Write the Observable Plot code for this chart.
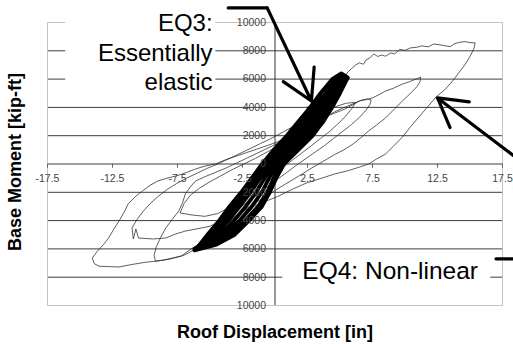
<!DOCTYPE html>
<html>
<head>
<meta charset="utf-8">
<script src="https://cdn.jsdelivr.net/npm/d3@7"></script>
<script src="https://cdn.jsdelivr.net/npm/@observablehq/plot@0.6"></script>
<style>
  html, body { margin: 0; padding: 0; background: #fff; }
  svg { display: block; }
</style>
</head>
<body>
<div id="chart"></div>
<script>
// ---- axis ticks ----
const xTicks = [-17.5, -12.5, -7.5, -2.5, 2.5, 7.5, 12.5, 17.5];
const xTickLabels = ["-17.5", "-12.5", "-7.5", "-2.5", "2.5", "7.5", "12.5", "17.5"];
const yTicks = [10000, 8000, 6000, 4000, 2000, 0, -2000, -4000, -6000, -8000, -10000];
const yTickLabels = ["10000", "8000", "6000", "4000", "2000", "0", "2000", "4000", "6000", "8000", "10000"];

// ---- EQ4 (non-linear) response: [roof displacement in, base moment kip-ft] ----
const eq4 = [
  [-0.3,-200],[0.6,700],[1.5,1500],[2.4,2300],[3.2,3100],[4.0,3900],[4.6,4700],[5.0,5400],[5.4,6200],[5.6,6500],
  [5.9,6750],[6.2,7000],[6.5,7150],[6.8,7050],[7.0,7350],[7.3,7500],[7.6,7780],[7.9,7600],[8.2,7700],[8.5,7620],
  [8.9,7850],[9.2,7780],[9.6,8100],[10.0,8030],[10.4,8200],[10.9,8250],[11.3,8350],[11.8,8280],[12.2,8480],[12.7,8420],
  [13.1,8350],[13.5,8300],[13.8,8500],[14.2,8600],[14.6,8650],[15.0,8580],[15.4,8560],
  [15.3,8150],[15.0,7600],[14.6,7000],[14.1,6400],[13.6,5800],[13.0,5200],[12.4,4750],[11.8,4100],[11.0,3250],
  [10.4,2600],[9.8,1900],[9.1,1250],[8.5,700],[7.8,350],[7.2,0],[6.4,-250],[5.5,-500],[4.6,-700],[3.6,-1000],
  [2.4,-1350],[1.3,-1800],[0.2,-2300],[-0.9,-2700],[-2.0,-3100],[-3.0,-3700],[-4.0,-4500],[-5.0,-5300],[-6.0,-5950],
  [-7.0,-6450],[-8.0,-6700],[-9.0,-6850],[-10.0,-6950],[-11.0,-7100],[-12.0,-7280],[-12.8,-7250],[-13.5,-7230],
  [-13.9,-7050],[-14.05,-6650],
  [-13.7,-6200],[-13.2,-5700],[-12.8,-5230],[-12.4,-4600],[-12.0,-4030],[-11.6,-3400],[-11.3,-2830],[-10.8,-2350],
  [-10.2,-1910],[-9.6,-1500],[-9.0,-1200],[-8.3,-1000],[-7.6,-850],[-6.8,-600],[-6.1,-350],[-5.4,-150],[-4.6,0],
  [-3.8,300],[-3.0,550],[-2.2,800],[-1.4,1050],[-0.6,1300],[0.3,1600],[1.2,2000],[2.1,2400],[3.0,2900],[3.8,3300],
  [4.6,3600],[5.4,3890],[6.0,4200],[6.5,4450],[7.0,4550],[7.5,4670],[8.0,4900],[8.5,5160],[9.1,5350],[9.8,5650],
  [10.3,5800],[10.7,5950],[11.0,6050],[11.2,6150],
  [11.15,5800],[10.9,5450],[10.6,5160],[10.2,4800],[9.8,4450],[9.2,3900],[8.5,3250],[7.8,2750],[7.2,2330],[6.6,1850],
  [6.0,1410],[5.3,1000],[4.65,700],[4.0,350],[3.35,0],[2.7,-350],[2.1,-700],[1.2,-1200],[0.3,-1700],[-0.7,-2300],
  [-1.8,-2900],[-2.8,-3500],[-3.8,-4200],[-4.8,-4900],[-5.8,-5600],[-6.6,-6100],[-7.2,-6500],[-7.9,-6650],[-8.6,-6800],
  [-9.2,-6860],
  [-9.3,-6450],[-9.15,-5900],[-8.8,-5200],[-8.4,-4520],[-7.9,-3900],[-7.4,-3320],[-7.1,-2700],[-6.9,-2120],[-6.5,-1600],
  [-6.1,-1200],[-5.4,-900],[-4.6,-600],[-3.8,-300],[-3.0,50],[-2.2,400],[-1.4,750],[-0.6,1100],[0.3,1500],[1.2,1950],
  [2.0,2400],[2.8,2850],[3.6,3250],[4.4,3600],[5.2,3950],[6.0,4250],[6.6,4500],[7.1,4600],[7.4,4520],
  [7.3,4200],[7.0,3800],[6.5,3300],[5.9,2800],[5.2,2300],[4.5,1800],[3.8,1300],[3.1,850],[2.4,400],[1.7,-50],
  [0.9,-600],[0.0,-1200],[-1.0,-1900],[-2.0,-2600],[-3.0,-3300],[-4.0,-3900],[-5.0,-4400],[-6.1,-4600],[-6.9,-4740],
  [-7.65,-4950],[-8.4,-5230],[-9.4,-5300],[-10.5,-5230],[-10.7,-4600],[-10.9,-5300],[-11.0,-4520],
  [-10.6,-3900],[-10.1,-3300],[-9.6,-2800],[-9.0,-2300],[-8.3,-1800],[-7.6,-1400],[-6.8,-1000],[-6.0,-650],[-5.2,-300],
  [-4.4,0],[-3.6,350],[-2.8,700],[-2.0,1050],[-1.1,1450],[-0.2,1850],[0.7,2300],[1.6,2750],[2.4,3150],[3.2,3500],
  [4.0,3800],[4.8,4100],[5.5,4300],[6.2,4350],
  [5.9,3900],[5.4,3350],[4.8,2800],[4.2,2300],[3.5,1800],[2.8,1300],[2.1,800],[1.3,250],[0.5,-300],[-0.4,-900],
  [-1.4,-1600],[-2.4,-2300],[-3.4,-3000],[-4.4,-3500],[-5.4,-3700],[-6.4,-3600],[-7.3,-3460],
  [-7.0,-2800],[-6.5,-2200],[-5.8,-1700],[-5.0,-1250],[-4.2,-850],[-3.3,-400],[-2.4,0],[-1.5,400],[-0.6,850],
  [0.3,1300],[1.2,1800],[2.0,2300],[2.8,2800],[3.5,3200],[4.1,3390],
  [3.8,2900],[3.2,2300],[2.5,1700],[1.8,1100],[1.0,500],[0.2,0]
];

// ---- EQ3 (essentially elastic) response ----
const eq3 = [
  [-2.3,-4000],[-1.3,-3000],[-0.6,-2000],[-0.1,-1000],[0.4,0],[1.5,1000],[2.6,2000],[3.4,3000],[4.2,4000],
  [3.5,4500],[3.0,4000],[2.1,3000],[1.2,2000],[0.2,1000],[-0.7,0],[-1.5,-1000],[-2.3,-2000],[-3.2,-3000],[-4.0,-4000],[-4.5,-4500],
  [-3.5,-4600],[-3.15,-4000],[-2.25,-3000],[-1.45,-2000],[-0.8,-1000],[-0.15,0],[0.85,1000],[1.9,2000],[2.75,3000],[3.6,4000],[4.35,5000],[5.05,6000],[5.3,6300],
  [5.0,6250],[4.88,6000],[4.12,5000],[3.3,4000],[2.42,3000],[1.55,2000],[0.52,1000],[-0.42,0],[-1.15,-1000],[-1.88,-2000],[-2.72,-3000],[-3.58,-4000],[-4.6,-5000],[-5.6,-5700],[-6.2,-6000],
  [-5.5,-5900],[-3.8,-5000],[-2.72,-4000],[-1.78,-3000],[-1.02,-2000],[-0.45,-1000],[0.12,0],[1.18,1000],[2.25,2000],[3.08,3000],[3.9,4000],[4.58,5000],[5.22,6000],[5.4,6200],
  [4.7,6000],[3.9,5000],[3.1,4000],[2.2,3000],[1.3,2000],[0.3,1000],[-0.6,0],[-1.4,-1000],[-2.2,-2000],[-3.1,-3000],[-3.9,-4000],[-4.9,-5000],[-6.0,-5900],
  [-5.2,-5700],[-3.4,-5000],[-2.3,-4000],[-1.3,-3000],[-0.6,-2000],[-0.1,-1000],[0.4,0],[1.5,1000],[2.6,2000],[3.4,3000],[4.2,4000],[4.8,5000],[5.3,5800],
  [5.0,5900],[4.35,5000],[3.6,4000],[2.75,3000],[1.9,2000],[0.85,1000],[-0.15,0],[-0.8,-1000],[-1.45,-2000],[-2.25,-3000],[-3.15,-4000],[-4.2,-5000],[-5.0,-5400],
  [-4.6,-5000],[-3.58,-4000],[-2.72,-3000],[-1.88,-2000],[-1.15,-1000],[-0.42,0],[0.52,1000],[1.55,2000],[2.42,3000],[3.3,4000],[4.12,5000],[4.6,5500],
  [4.9,5400],[4.58,5000],[3.9,4000],[3.08,3000],[2.25,2000],[1.18,1000],[0.12,0],[-0.45,-1000],[-1.02,-2000],[-1.78,-3000],[-2.72,-4000],[-3.6,-4800],
  [-4.4,-4800],[-4.0,-4000],[-3.2,-3000],[-2.3,-2000],[-1.5,-1000],[-0.7,0],[0.2,1000],[1.2,2000],[2.1,3000],[2.8,3700],[2.6,3950],[3.0,4000],[3.9,5000],[4.4,5600],[4.7,6000],[5.0,6300],
  [5.4,6000],[4.8,5000],[4.2,4000],[3.4,3000],[2.6,2000],[1.5,1000],[0.4,0],[-0.1,-1000],[-0.6,-2000],[-1.3,-3000],[-2.3,-4000],[-3.4,-5000],[-4.6,-5600],[-6.1,-6050],
  [-5.2,-5000],[-4.3,-4000],[-3.5,-3000],[-2.6,-2000],[-1.8,-1000],[-1.0,0],[-0.1,1000],[0.9,2000],[1.8,3000],[2.7,4000],[3.5,5000],[4.4,6000],[5.1,6400],
  [5.6,6100],[5.0,5000],[4.4,4000],[3.7,3000],[2.9,2000],[1.8,1000],[0.7,0],[0.1,-1000],[-0.4,-2000],[-1.0,-3000],[-2.0,-4000],[-3.1,-5000],[-4.5,-5700],[-6.2,-6100]
];

// ---- annotations (data units) ----
const noteBoxes = [
  {x1: -16.1, x2: -4.55, y1: 5000, y2: 11600},
  {x1: 0.6, x2: 16.6, y1: -6250, y2: -9700}
];
const eq3Lines = ["EQ3:", "Essentially", "elastic"];
const eq3LineY = [9400, 7280, 5230];
const eq3LabelX = -4.8;
const eq4Label = "EQ4: Non-linear";
const eq4LabelPos = [2.1, -8160];
const arrow1Path = [[-3.6, 11030], [-0.6, 11030]];
const arrow1Head = {x1: -0.6, y1: 11030, x2: 2.8, y2: 4450};
const arrow2 = {x1: 18.4, y1: 560, x2: 12.5, y2: 4670};
const rightStub = [[17.0, -6700], [18.4, -6700]];

const font = "'Liberation Sans', Arial, Helvetica, sans-serif";

const chart = Plot.plot({
  width: 513,
  height: 344,
  marginLeft: 47,
  marginRight: 11,
  marginTop: 22,
  marginBottom: 39,
  x: {domain: [-17.5, 17.5], axis: null},
  y: {domain: [-10000, 10000], axis: null},
  style: {fontFamily: font, background: "white", overflow: "visible"},
  marks: [
    Plot.ruleY(yTicks.filter(d => Math.abs(d) < 10000), {stroke: "#3c3c3c", strokeWidth: 1}),
    Plot.frame({stroke: "#c4c4c4"}),
    Plot.ruleX([0], {stroke: "#333"}),
    Plot.ruleX(xTicks, {x: d => d, y1: 0, y2: -300, stroke: "#666"}),
    Plot.line(eq4, {x: d => d[0], y: d => d[1], stroke: "#2a2a2a", strokeWidth: 0.75}),
    Plot.line(eq3, {x: d => d[0], y: d => d[1], stroke: "black", strokeWidth: 3.8, strokeLinejoin: "round"}),
    Plot.rect(noteBoxes, {x1: "x1", x2: "x2", y1: "y1", y2: "y2", fill: "white"}),
    Plot.text(yTicks, {x: 0, y: d => d, text: (d, i) => yTickLabels[i], textAnchor: "end", dx: -9, fontSize: 10.5, fill: "#444"}),
    Plot.text(xTicks, {x: d => d, y: 0, text: (d, i) => xTickLabels[i], dy: 15, fontSize: 10.5, fill: "#444"}),
    Plot.text(eq3Lines, {x: eq3LabelX, y: (d, i) => eq3LineY[i], text: d => d, textAnchor: "end", lineAnchor: "bottom", fontSize: 24, fill: "black"}),
    Plot.text([eq4Label], {x: eq4LabelPos[0], y: eq4LabelPos[1], text: d => d, textAnchor: "start", lineAnchor: "bottom", fontSize: 24.5, fill: "black"}),
    Plot.line(arrow1Path, {x: d => d[0], y: d => d[1], stroke: "black", strokeWidth: 3.2}),
    Plot.arrow([arrow1Head], {x1: "x1", y1: "y1", x2: "x2", y2: "y2", stroke: "black", strokeWidth: 3.2, headLength: 16}),
    Plot.arrow([arrow2], {x1: "x1", y1: "y1", x2: "x2", y2: "y2", stroke: "black", strokeWidth: 3.2, headLength: 16}),
    Plot.line(rightStub, {x: d => d[0], y: d => d[1], stroke: "black", strokeWidth: 3.2}),
    Plot.text(["Base Moment [kip-ft]"], {frameAnchor: "left", dx: -32, dy: -2, rotate: -90, textAnchor: "middle", lineAnchor: "middle", text: d => d, fontSize: 18, fontWeight: "bold", fill: "black"}),
    Plot.text(["Roof Displacement [in]"], {frameAnchor: "bottom", dy: 32, textAnchor: "middle", lineAnchor: "bottom", text: d => d, fontSize: 18, fontWeight: "bold", fill: "black"})
  ]
});
document.getElementById("chart").appendChild(chart);
</script>
</body>
</html>
